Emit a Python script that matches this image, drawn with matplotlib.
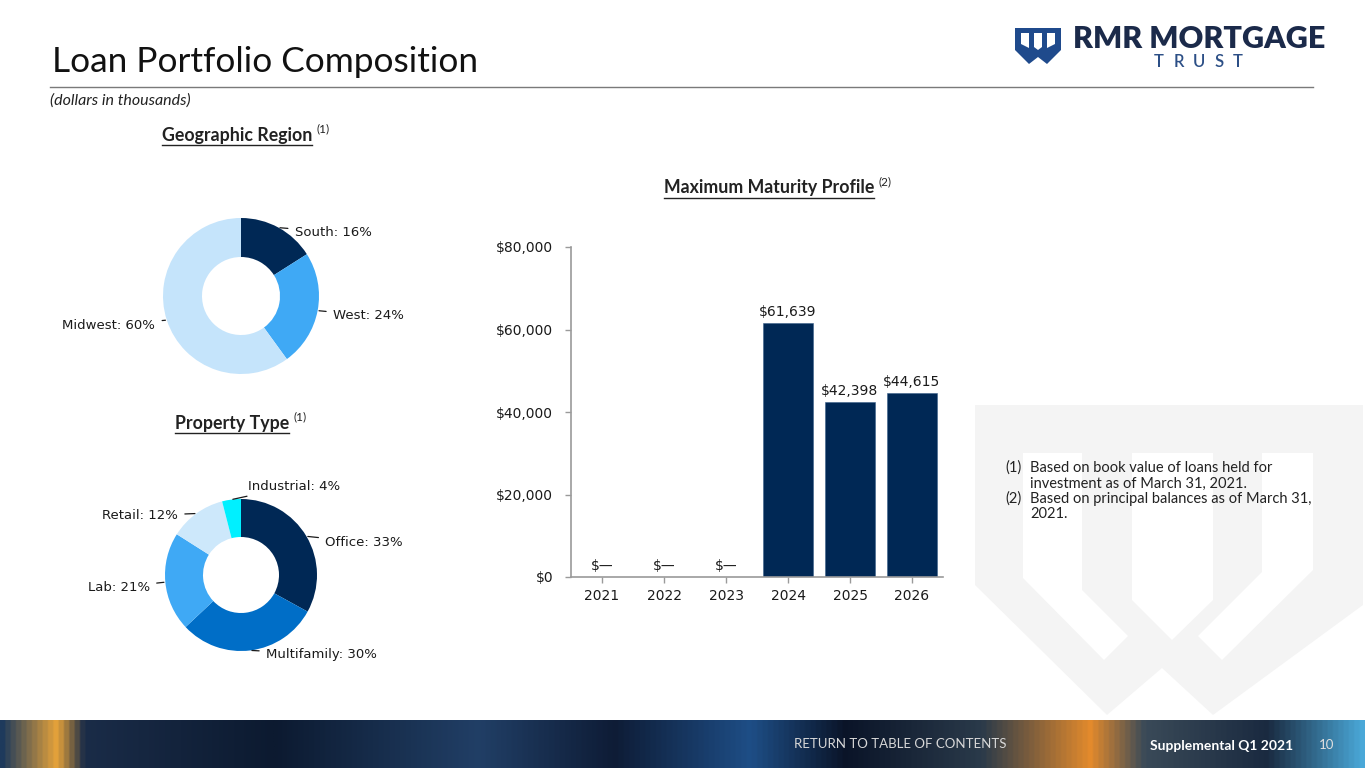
import numpy as np
import matplotlib
matplotlib.use("Agg")
import matplotlib.pyplot as plt
from matplotlib.patches import Polygon
from matplotlib.colors import LinearSegmentedColormap

# ---------------- data ----------------
geo_labels = ["South", "West", "Midwest"]
geo_values = [16, 24, 60]
geo_colors = ["#002855", "#3fa9f5", "#c5e4fb"]

prop_labels = ["Office", "Multifamily", "Lab", "Retail", "Industrial"]
prop_values = [33, 30, 21, 12, 4]
prop_colors = ["#002855", "#006ec7", "#3fa9f5", "#cde8fb", "#00f0ff"]

years = ["2021", "2022", "2023", "2024", "2025", "2026"]
maturity = [0, 0, 0, 61639, 42398, 44615]
yticks = [0, 20000, 40000, 60000, 80000]

W, H = 1365, 768
fig = plt.figure(figsize=(W / 100, H / 100), dpi=100)
fig.patch.set_facecolor("white")

def fx(px):
    return px / W

def fy(py):
    return 1 - py / H

def P(pts):
    return [(fx(x), fy(y)) for x, y in pts]

# ---------------- watermark ----------------
wm = "#f4f4f4"
fig.patches.append(Polygon(P([(975, 405), (1363, 405), (1363, 605), (1213, 715),
                              (1162, 668), (1107, 715), (975, 585)]),
                           closed=True, transform=fig.transFigure, fc=wm, ec="none", zorder=0))
for pts in [
    [(1023, 453), (1082, 453), (1082, 590), (1128, 636), (1104, 660), (1023, 578)],
    [(1132, 453), (1213, 453), (1213, 600), (1172, 640), (1132, 600)],
    [(1262, 453), (1313, 453), (1313, 570), (1222, 660), (1198, 636), (1262, 572)],
]:
    fig.patches.append(Polygon(P(pts), closed=True, transform=fig.transFigure,
                               fc="white", ec="none", zorder=0))

# ---------------- header ----------------
fig.text(fx(52), fy(62), "Loan Portfolio Composition", fontsize=25.4, family="Lato",
         fontweight="normal", color="#111111", ha="left", va="center")
fig.add_artist(plt.Line2D([fx(50), fx(1313)], [fy(87), fy(87)], transform=fig.transFigure,
                          color="#7a7a7a", lw=1))
fig.text(fx(50), fy(101), "(dollars in thousands)", fontsize=11.5, family="Lato",
         style="italic", color="#222222", ha="left", va="center")

# logo
fig.patches.append(Polygon(P([(1015, 28), (1061, 28), (1061, 50), (1047, 64),
                              (1038, 57), (1029, 64), (1015, 50)]),
                           closed=True, transform=fig.transFigure, fc="#1f4a8c", ec="none"))
for pts in [[(1021, 33), (1029, 33), (1029, 48), (1021, 44)],
            [(1034, 33), (1042, 33), (1042, 47), (1038, 50), (1034, 47)],
            [(1047, 33), (1055, 33), (1055, 44), (1047, 48)]]:
    fig.patches.append(Polygon(P(pts), closed=True, transform=fig.transFigure,
                               fc="white", ec="none"))
fig.text(fx(1073), fy(39), "RMR MORTGAGE", fontsize=22, family="Lato", fontweight="heavy",
         color="#1b2a4a", ha="left", va="center")
for ch, xc in zip("TRUST", [1159, 1179, 1199, 1219, 1238]):
    fig.text(fx(xc), fy(62), ch, fontsize=12, family="Lato", fontweight="semibold",
             color="#2c4f86", ha="center", va="center")

# ---------------- footer ----------------
fax = fig.add_axes([0, 0, 1, 48 / H])
fax.axis("off")
cmap = LinearSegmentedColormap.from_list("foot", [
    (0.0, "#1e3a5c"), (0.04, "#e6a33a"), (0.06, "#1a2c48"), (0.2, "#0c1a30"),
    (0.35, "#213f66"), (0.45, "#0e1c36"), (0.55, "#1e4e86"), (0.62, "#0a1428"),
    (0.72, "#2a3a4a"), (0.8, "#e38a2c"), (0.84, "#3a4a58"), (0.93, "#1a2a40"),
    (1.0, "#4aa8d8")])
grad = np.linspace(0, 1, 512)[None, :]
fax.imshow(grad, aspect="auto", cmap=cmap, extent=[0, 1, 0, 1])
fax.set_xlim(0, 1)
fax.set_ylim(0, 1)
fig.text(fx(900), fy(744), "RETURN TO TABLE OF CONTENTS", fontsize=9.5, family="Lato",
         color="#d8d8d8", ha="center", va="center")
fig.text(fx(1222), fy(746), "Supplemental Q1 2021", fontsize=10, family="Lato",
         fontweight="bold", color="white", ha="center", va="center")
fig.text(fx(1327), fy(745), "10", fontsize=9.5, family="Lato", color="#e0e0e0",
         ha="center", va="center")

# ---------------- section titles ----------------
titles = []
titles.append((fig.text(fx(237), fy(135), "Geographic Region", fontsize=12.8, family="Lato",
                        fontweight="bold", color="#222222", ha="center", va="center"), "(1)"))
titles.append((fig.text(fx(232), fy(423), "Property Type", fontsize=12.8, family="Lato",
                        fontweight="bold", color="#222222", ha="center", va="center"), "(1)"))
titles.append((fig.text(fx(769), fy(188), "Maximum Maturity Profile", fontsize=12.8,
                        family="Lato", fontweight="bold", color="#222222", ha="center",
                        va="center"), "(2)"))

# ---------------- donuts ----------------
def donut(cx, cy, r, values, labels, colors, text_pos):
    ax = fig.add_axes([fx(cx - r), fy(cy + r), 2 * r / W, 2 * r / H])
    wedges, _ = ax.pie(values, colors=colors, startangle=90, counterclock=False,
                       radius=1, wedgeprops=dict(width=0.5, edgecolor="none"))
    ax.set_xlim(-1, 1)
    ax.set_ylim(-1, 1)
    ax.set_aspect("equal")
    ax.axis("off")
    for w, lab, val, (tx, ty, ha) in zip(wedges, labels, values, text_pos):
        ang = np.deg2rad((w.theta1 + w.theta2) / 2)
        ax.annotate(f"{lab}: {val}%", xy=(np.cos(ang), np.sin(ang)), xytext=(tx, ty),
                    ha=ha, va="center", fontsize=9.5, color="#1a1a1a",
                    annotation_clip=False,
                    arrowprops=dict(arrowstyle="-", color="#1a1a1a", lw=0.9,
                                    shrinkA=3, shrinkB=1))
    return ax

donut(241, 296, 78, geo_values, geo_labels, geo_colors,
      [(0.69, 0.82, "left"), (1.18, -0.25, "left"), (-1.10, -0.38, "right")])
donut(241, 575, 76, prop_values, prop_labels, prop_colors,
      [(1.11, 0.43, "left"), (0.33, -1.04, "left"), (-1.20, -0.16, "right"),
       (-0.83, 0.78, "right"), (0.09, 1.17, "left")])

# ---------------- bar chart ----------------
bx = fig.add_axes([fx(571), fy(577), 372 / W, 330 / H])
xpos = np.arange(len(years))
bars = bx.bar(xpos, maturity, width=0.82, color="#002855", edgecolor="#3a5f8a", lw=0.4)
bx.set_xlim(-0.5, 5.5)
bx.set_ylim(0, 80000)
bx.set_xticks(xpos)
bx.set_xticklabels(years)
bx.set_yticks(yticks)
bx.set_yticklabels([f"${v:,.0f}" for v in yticks])
for s in ["top", "right"]:
    bx.spines[s].set_visible(False)
for s in ["left", "bottom"]:
    bx.spines[s].set_color("#9a9a9a")
    bx.spines[s].set_linewidth(1.2)
bx.tick_params(axis="both", colors="#9a9a9a", labelcolor="#1a1a1a", labelsize=10,
               length=4.3, width=1)
bx.tick_params(axis="y", pad=8.6)
bx.tick_params(axis="x", pad=4)
bx.set_facecolor("none")
for xp, v in zip(xpos, maturity):
    lab = f"${v:,.0f}" if v > 0 else "$\u2014"
    bx.annotate(lab, (xp, v), xytext=(0, 3), textcoords="offset points",
                ha="center", va="bottom", fontsize=10, color="#1a1a1a")

# ---------------- footnotes ----------------
notes = [("(1)", ["Based on book value of loans held for", "investment as of March 31, 2021."]),
         ("(2)", ["Based on principal balances as of March 31,", "2021."])]
y = 468
for num, lines in notes:
    fig.text(fx(1005), fy(y), num, fontsize=10.5, family="Lato", color="#222222",
             ha="left", va="center")
    for ln in lines:
        fig.text(fx(1030), fy(y), ln, fontsize=10.5, family="Lato", color="#222222",
                 ha="left", va="center")
        y += 15.5

# ---------------- underlines + superscripts ----------------
fig.canvas.draw()
r = fig.canvas.get_renderer()
for t, sup in titles:
    bb = t.get_window_extent(r)
    x0, x1 = bb.x0 / W, bb.x1 / W
    yl = (bb.y0 - 1) / H
    fig.add_artist(plt.Line2D([x0, x1], [yl, yl], transform=fig.transFigure,
                              color="#222222", lw=1))
    fig.text(x1 + 4 / W, (bb.y1 - 2) / H, sup, fontsize=8.5, family="Lato",
             color="#222222", ha="left", va="center")

fig.savefig("out.png", dpi=100)
